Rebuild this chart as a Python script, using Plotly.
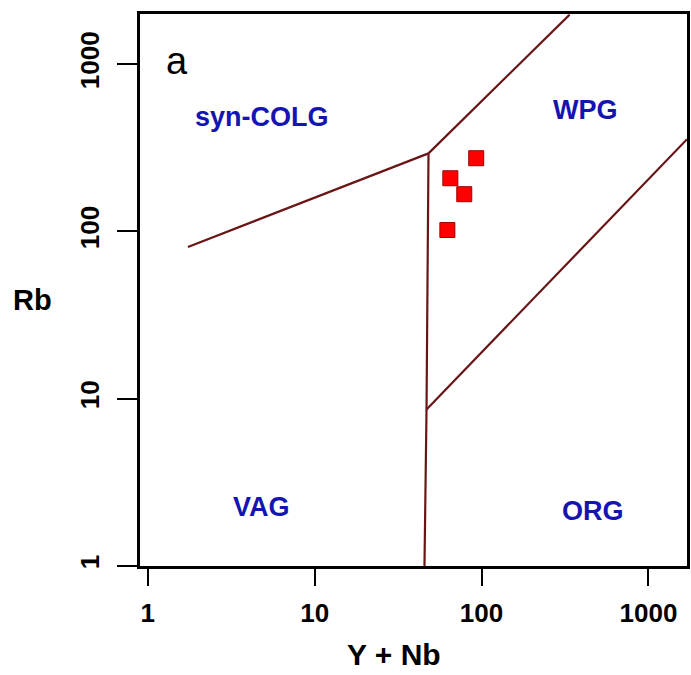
import math
import plotly.graph_objects as go

# ---- data ----
sample_yn = [92.9, 65.0, 78.8, 62.4]      # Y + Nb
sample_rb = [274, 208, 167, 102]          # Rb

colg_vag_x = [1.74, 48.1]
colg_vag_y = [80.7, 293]
colg_wpg_x = [48.1, 337]
colg_wpg_y = [293, 1978]
vag_x = [48.1, 46.8, 45.5]
vag_y = [293, 8.61, 1]
org_wpg_x = [46.8, 1703]
org_wpg_y = [8.61, 356]

tick_vals = [1, 10, 100, 1000]
tick_text = ["1", "10", "100", "1000"]

regions = ["syn-COLG", "WPG", "VAG", "ORG"]
region_x = [4.86, 420, 4.79, 463]
region_y = [481, 530, 2.24, 2.12]

LINE = "#6a1515"
BLUE = "#1414b0"
FONT = "Liberation Sans, Arial, sans-serif"

fig = go.Figure()
for xs, ys in [(colg_vag_x, colg_vag_y), (colg_wpg_x, colg_wpg_y),
               (vag_x, vag_y), (org_wpg_x, org_wpg_y)]:
    fig.add_trace(go.Scatter(x=xs, y=ys, mode="lines",
                             line=dict(color=LINE, width=2.2),
                             showlegend=False, hoverinfo="skip"))

fig.add_trace(go.Scatter(x=sample_yn, y=sample_rb, mode="markers",
                         marker=dict(symbol="square", size=15, color="#ff0000",
                                     line=dict(color="#a00000", width=1)),
                         showlegend=False))

for name, rx, ry in zip(regions, region_x, region_y):
    fig.add_annotation(x=math.log10(rx), y=math.log10(ry), text=f"<b>{name}</b>",
                       showarrow=False, xanchor="center", yanchor="middle",
                       font=dict(family=FONT, size=27, color=BLUE))

fig.add_annotation(x=math.log10(1.49), y=math.log10(1038), text="a", showarrow=False,
                   xanchor="center", yanchor="middle",
                   font=dict(family=FONT, size=38, color="black"))

fig.add_annotation(xref="paper", yref="paper", x=-0.196, y=0.482, text="<b>Rb</b>",
                   showarrow=False, xanchor="center", yanchor="middle",
                   font=dict(family=FONT, size=29, color="black"))
fig.add_annotation(xref="paper", yref="paper", x=0.4636, y=-0.161, text="<b>Y + Nb</b>",
                   showarrow=False, xanchor="center", yanchor="middle",
                   font=dict(family=FONT, size=30, color="black"))

fig.update_xaxes(type="log", range=[-0.0465, 3.231], tickvals=tick_vals,
                 ticktext=[f"<b>{t}</b>" for t in tick_text],
                 showline=True, linecolor="black", linewidth=2.5, mirror=True,
                 ticks="outside", ticklen=17, tickwidth=2, tickcolor="black",
                 showgrid=False, zeroline=False,
                 tickfont=dict(family=FONT, size=26, color="black"),
                 ticklabelstandoff=5)
fig.update_yaxes(type="log", range=[0, 3.3], tickvals=tick_vals,
                 ticktext=[f"<b>{t}</b>" for t in tick_text],
                 showline=True, linecolor="black", linewidth=2.5, mirror=True,
                 ticks="outside", ticklen=20, tickwidth=2, tickcolor="black",
                 showgrid=False, zeroline=False, tickangle=-90,
                 tickfont=dict(family=FONT, size=26, color="black"),
                 ticklabelstandoff=8)

fig.update_layout(width=691, height=675,
                  margin=dict(l=140, r=1, t=14, b=109),
                  paper_bgcolor="white", plot_bgcolor="white")

# remove the default page margin so the figure fills the window exactly
fig.write_html("out.html",
               config={"displayModeBar": False},
               post_script="document.body.style.margin='0';"
                           "document.body.style.overflow='hidden';")
